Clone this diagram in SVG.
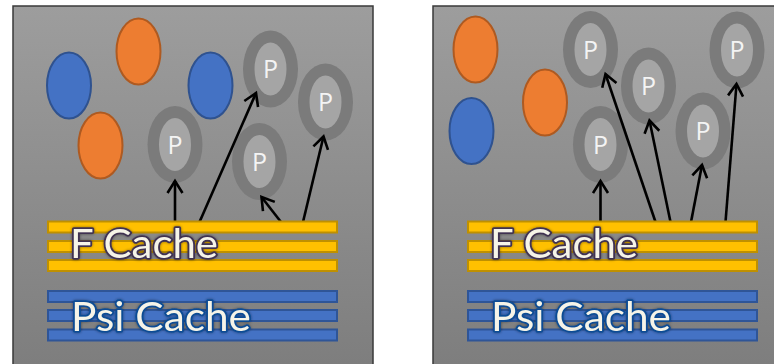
<svg xmlns="http://www.w3.org/2000/svg" width="774" height="364" viewBox="0 0 774 364">
  <defs>
    <linearGradient id="panelFill" x1="0" y1="0" x2="0" y2="1">
      <stop offset="0" stop-color="#9d9d9d"/>
      <stop offset="1" stop-color="#7c7c7c"/>
    </linearGradient>
    <marker id="openHead" markerUnits="userSpaceOnUse" markerWidth="18" markerHeight="18" refX="14" refY="9" orient="auto">
      <path d="M2,1.5 L14,9 L2,16.5" fill="none" stroke="#000" stroke-width="2.6"/>
    </marker>
    <filter id="glow" x="-10%" y="-30%" width="120%" height="160%">
      <feGaussianBlur in="SourceAlpha" stdDeviation="1.6"/>
      <feComponentTransfer><feFuncA type="linear" slope="0.45"/></feComponentTransfer>
      <feMerge><feMergeNode/><feMergeNode in="SourceGraphic"/></feMerge>
    </filter>
  </defs>
  <style>
    .panel { fill: url(#panelFill); stroke: #3a3a3a; stroke-width: 1.5; }
    .orange { fill: #ed7d31; stroke: #ae5a21; stroke-width: 2; }
    .blue { fill: #4472c4; stroke: #2f528f; stroke-width: 2; }
    .ring { fill: #7b7b7b; }
    .core { fill: #a5a5a5; }
    .plabel { font-family: "Open Sans", "Liberation Sans", sans-serif; font-size: 25px; fill: #f4f4f4; text-anchor: middle; }
    .fbar { fill: #ffc000; stroke: #bf9000; stroke-width: 2; }
    .pbar { fill: #4472c4; stroke: #2f5597; stroke-width: 2; }
    .big { font-family: "Lato", "Open Sans", sans-serif; font-size: 40px; fill: #f6f4e8; stroke-width: 3.6; stroke-linejoin: round; paint-order: stroke fill; }
    .ftext { stroke: #3f3151; }
    .ptext { stroke: #0b4c94; }
    .arrow { fill: none; stroke: #000; stroke-width: 2.6; marker-end: url(#openHead); }
  </style>

  <!-- panel backgrounds -->
  <rect id="panel-left" class="panel" x="13" y="6" width="360" height="380"/>
  <rect id="panel-right" class="panel" x="433" y="6" width="360" height="380"/>

  <!-- left panel: plain cells -->
  <g id="left-blue-1"><ellipse class="blue" cx="69" cy="85.5" rx="22" ry="33"/></g>
  <g id="left-orange-1"><ellipse class="orange" cx="138.5" cy="51.5" rx="22" ry="33"/></g>
  <g id="left-orange-2"><ellipse class="orange" cx="100.5" cy="145.5" rx="22" ry="33"/></g>
  <g id="left-blue-2"><ellipse class="blue" cx="210.5" cy="85.5" rx="22" ry="33"/></g>

  <!-- left panel: P cells -->
  <g id="left-p1">
    <ellipse class="ring" cx="270.5" cy="69" rx="27.5" ry="38.5"/>
    <ellipse class="core" cx="270.5" cy="69" rx="16" ry="26.5"/>
    <text class="plabel" x="270.5" y="78">P</text>
  </g>
  <g id="left-p2">
    <ellipse class="ring" cx="325.5" cy="102" rx="27.5" ry="38.5"/>
    <ellipse class="core" cx="325.5" cy="102" rx="16" ry="26.5"/>
    <text class="plabel" x="325.5" y="111">P</text>
  </g>
  <g id="left-p3">
    <ellipse class="ring" cx="175" cy="144.5" rx="27.5" ry="38.5"/>
    <ellipse class="core" cx="175" cy="144.5" rx="16" ry="26.5"/>
    <text class="plabel" x="175" y="153.5">P</text>
  </g>
  <g id="left-p4">
    <ellipse class="ring" cx="259.5" cy="161.5" rx="27.5" ry="38.5"/>
    <ellipse class="core" cx="259.5" cy="161.5" rx="16" ry="26.5"/>
    <text class="plabel" x="259.5" y="170.5">P</text>
  </g>

  <!-- right panel: plain cells -->
  <g id="right-orange-1"><ellipse class="orange" cx="475.5" cy="49.5" rx="22" ry="33"/></g>
  <g id="right-blue-1"><ellipse class="blue" cx="471.5" cy="131" rx="22" ry="33"/></g>
  <g id="right-orange-2"><ellipse class="orange" cx="545" cy="102.5" rx="22" ry="33"/></g>

  <!-- right panel: P cells -->
  <g id="right-p1">
    <ellipse class="ring" cx="590.5" cy="49.5" rx="27.5" ry="38.5"/>
    <ellipse class="core" cx="590.5" cy="49.5" rx="16" ry="26.5"/>
    <text class="plabel" x="590.5" y="58.5">P</text>
  </g>
  <g id="right-p2">
    <ellipse class="ring" cx="648.5" cy="86" rx="27.5" ry="38.5"/>
    <ellipse class="core" cx="648.5" cy="86" rx="16" ry="26.5"/>
    <text class="plabel" x="648.5" y="95">P</text>
  </g>
  <g id="right-p3">
    <ellipse class="ring" cx="600.5" cy="144.5" rx="27.5" ry="38.5"/>
    <ellipse class="core" cx="600.5" cy="144.5" rx="16" ry="26.5"/>
    <text class="plabel" x="600.5" y="153.5">P</text>
  </g>
  <g id="right-p4">
    <ellipse class="ring" cx="703" cy="131" rx="27.5" ry="38.5"/>
    <ellipse class="core" cx="703" cy="131" rx="16" ry="26.5"/>
    <text class="plabel" x="703" y="140">P</text>
  </g>
  <g id="right-p5">
    <ellipse class="ring" cx="737" cy="50" rx="27.5" ry="38.5"/>
    <ellipse class="core" cx="737" cy="50" rx="16" ry="26.5"/>
    <text class="plabel" x="737" y="59">P</text>
  </g>

  <!-- arrows from the F cache up to the P cells -->
  <g id="connectors">
    <line class="arrow" x1="175" y1="222" x2="175" y2="181"/>
    <line class="arrow" x1="199.5" y1="222" x2="256" y2="93"/>
    <line class="arrow" x1="281" y1="222" x2="261.5" y2="197"/>
    <line class="arrow" x1="303" y1="222" x2="323.5" y2="136.5"/>

    <line class="arrow" x1="600.5" y1="222" x2="600.5" y2="181"/>
    <line class="arrow" x1="655.5" y1="222" x2="605.5" y2="74"/>
    <line class="arrow" x1="670.5" y1="222" x2="649.5" y2="120.5"/>
    <line class="arrow" x1="691" y1="222" x2="702" y2="165"/>
    <line class="arrow" x1="725.5" y1="222" x2="736.5" y2="84"/>
  </g>

  <!-- left panel caches -->
  <g id="left-f-cache">
    <rect class="fbar" x="48" y="221.5" width="289" height="11"/>
    <rect class="fbar" x="48" y="241" width="289" height="11"/>
    <rect class="fbar" x="48" y="260" width="289" height="11"/>
    <text class="big ftext" x="70" y="258" textLength="148" lengthAdjust="spacingAndGlyphs" filter="url(#glow)">F Cache</text>
  </g>
  <g id="left-psi-cache">
    <rect class="pbar" x="48" y="291" width="289" height="11"/>
    <rect class="pbar" x="48" y="310" width="289" height="11"/>
    <rect class="pbar" x="48" y="329.5" width="289" height="11"/>
    <text class="big ptext" x="71" y="331" textLength="180" lengthAdjust="spacingAndGlyphs" filter="url(#glow)">Psi Cache</text>
  </g>

  <!-- right panel caches -->
  <g id="right-f-cache">
    <rect class="fbar" x="468" y="221.5" width="289" height="11"/>
    <rect class="fbar" x="468" y="241" width="289" height="11"/>
    <rect class="fbar" x="468" y="260" width="289" height="11"/>
    <text class="big ftext" x="490" y="258" textLength="148" lengthAdjust="spacingAndGlyphs" filter="url(#glow)">F Cache</text>
  </g>
  <g id="right-psi-cache">
    <rect class="pbar" x="468" y="291" width="289" height="11"/>
    <rect class="pbar" x="468" y="310" width="289" height="11"/>
    <rect class="pbar" x="468" y="329.5" width="289" height="11"/>
    <text class="big ptext" x="491" y="331" textLength="180" lengthAdjust="spacingAndGlyphs" filter="url(#glow)">Psi Cache</text>
  </g>
</svg>
